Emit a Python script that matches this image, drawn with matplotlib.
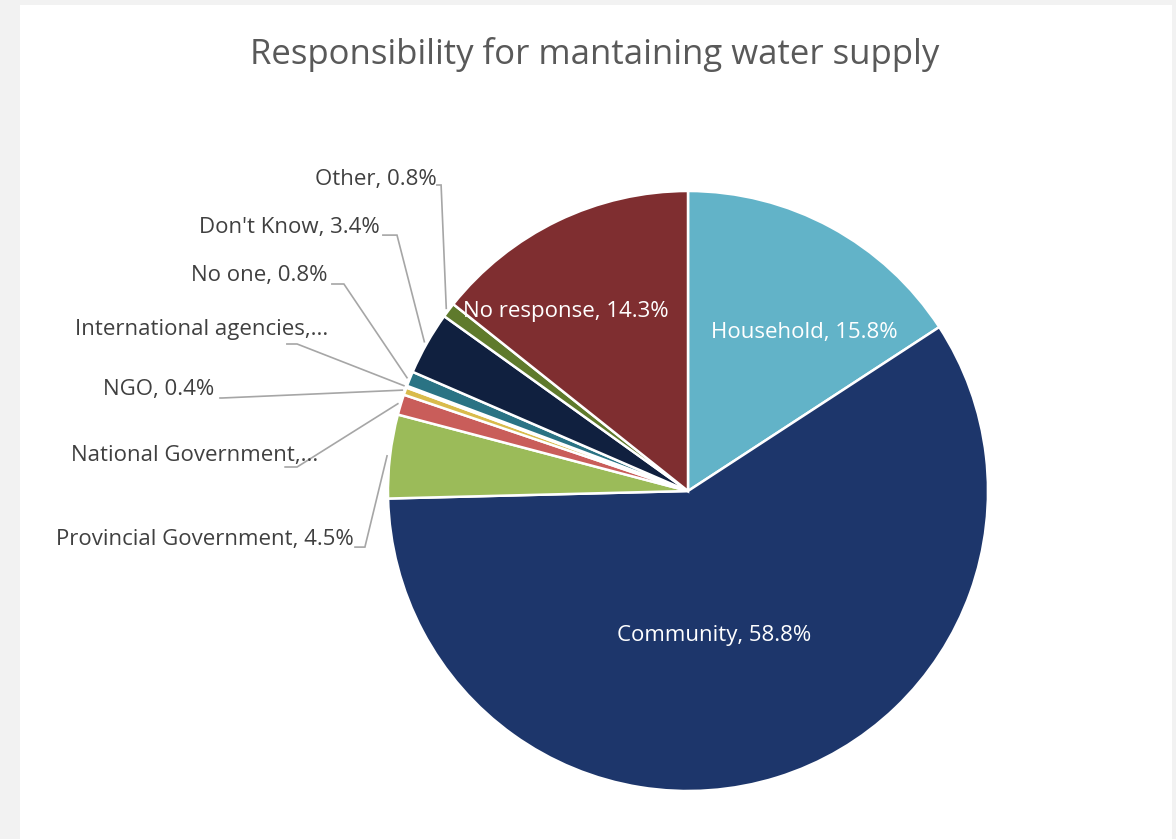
import numpy as np
import matplotlib
matplotlib.use('Agg')
import matplotlib.pyplot as plt
from matplotlib.patches import Rectangle

plt.rcParams['font.family'] = ['Open Sans', 'DejaVu Sans']

# data, clockwise from 12 o'clock
categories = ['Household', 'Community', 'Provincial Government', 'National Government',
              'NGO', 'International agencies', 'No one', "Don't Know", 'Other', 'No response']
shares = [15.8, 58.8, 4.5, 1.1, 0.4, 0.1, 0.8, 3.4, 0.8, 14.3]
label_texts = ['Household, 15.8%', 'Community, 58.8%', 'Provincial Government, 4.5%',
               'National Government,...', 'NGO, 0.4%', 'International agencies,...',
               'No one, 0.8%', "Don't Know, 3.4%", 'Other, 0.8%', 'No response, 14.3%']
colors = ['#62b3c8', '#1d366b', '#9bbb59', '#c95d5a', '#d9bb4c', '#4bacc6',
          '#2a7384', '#10203f', '#5f7a2c', '#7f2e30']

# label layout in pie units (radius = 1)
inside = {'Household': (0.387, 0.527), 'Community': (0.087, -0.48),
          'No response': (-0.407, 0.597)}
outside = {
    # name: (text right x, text y, line start x, line start y, elbow x)
    'Other': (-0.837, 1.037, -0.837, 1.02, -0.823),
    "Don't Know": (-1.027, 0.877, -1.017, 0.853, -0.97),
    'No one': (-1.203, 0.72, -1.187, 0.69, -1.147),
    'International agencies': (-1.2, 0.537, -1.337, 0.49, -1.303),
    'NGO': (-1.58, 0.337, -1.56, 0.31, -1.553),
    'National Government': (-1.233, 0.117, -1.343, 0.08, -1.303),
    'Provincial Government': (-1.113, -0.163, -1.11, -0.187, -1.077),
}

fig = plt.figure(figsize=(11.76, 8.39), dpi=100, facecolor='#f2f2f2')
fig.patches.append(Rectangle((20 / 1176, 0), 1152 / 1176, 834 / 839,
                             transform=fig.transFigure, facecolor='white',
                             edgecolor='none', zorder=-10))

ax = fig.add_axes([388 / 1176, 48 / 839, 600 / 1176, 600 / 839])
ax.set_facecolor('none')
wedges, _ = ax.pie(shares, colors=colors, startangle=90, counterclock=False,
                   radius=1, wedgeprops=dict(edgecolor='white', linewidth=1.8))
ax.set_xlim(-1, 1)
ax.set_ylim(-1, 1)
ax.set_aspect('equal')
ax.axis('off')

for w, name, txt in zip(wedges, categories, label_texts):
    if name in inside:
        x, y = inside[name]
        ax.text(x, y, txt, ha='center', va='center', color='white', fontsize=16)
    else:
        tx, ty, sx, sy, ex = outside[name]
        mid = np.deg2rad((w.theta1 + w.theta2) / 2)
        px, py = 1.01 * np.cos(mid), 1.01 * np.sin(mid)
        ax.plot([sx, ex, px], [sy, sy, py], color='#a6a6a6', lw=1.2,
                clip_on=False, solid_joinstyle='miter')
        ax.text(tx, ty, txt, ha='right', va='center', color='#404040', fontsize=16,
                clip_on=False)

fig.text(595 / 1176, 1 - 55 / 839, 'Responsibility for mantaining water supply',
         ha='center', va='center', fontsize=25, color='#595959')

fig.savefig('out.png', dpi=100, facecolor=fig.get_facecolor())
